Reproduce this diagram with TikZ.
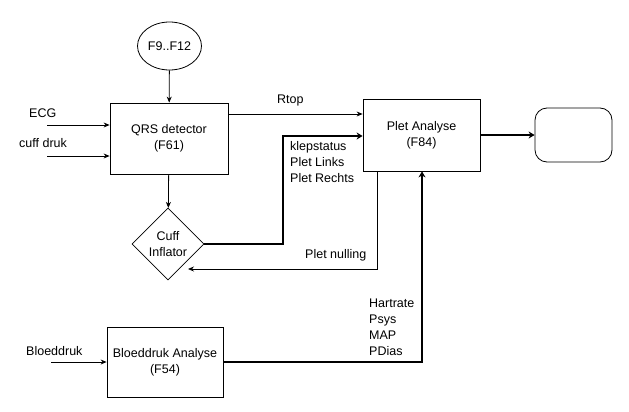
\documentclass[tikz,border=0pt]{standalone}
\usepackage{fontspec}
\setmainfont{Liberation Sans}
\usetikzlibrary{shapes.geometric,arrows.meta,calc}
\begin{document}
\begin{tikzpicture}[x=1pt,y=-1pt,
  every node/.style={font=\fontsize{12.5}{16}\selectfont},
  box/.style={draw,line width=0.8pt,inner sep=0,align=center},
  thin/.style={line width=0.8pt,-{Stealth[length=6pt,width=5pt]}},
  thick/.style={line width=2.6pt,-{Stealth[length=6pt,width=7pt]}},
  lbl/.style={inner sep=0,anchor=west,align=left}]
\useasboundingbox (0,0) rectangle (629,412);
% nodes
\node[draw,ellipse,line width=0.8pt,minimum width=64,minimum height=48,inner sep=0] (fk) at (169.5,46) {F9..F12};
\node[box,minimum width=118,minimum height=71] (qrs) at (169,138.5) {QRS detector\\(F61)};
\node[box,minimum width=117,minimum height=72] (plet) at (421.5,135) {Plet Analyse\\(F84)};
\node[draw,line width=0.8pt,rounded corners=12pt,minimum width=77,minimum height=54,inner sep=0] (out) at (573.5,135) {};
\node[draw,diamond,line width=0.8pt,minimum width=72,minimum height=72,inner sep=0,align=center] (cuff) at (168,244) {Cuff\\Inflator};
\node[box,minimum width=116,minimum height=70] (bd) at (165,362) {Bloeddruk Analyse\\(F54)};
% free ends
\coordinate (ecg) at (47,125);
\coordinate (cd) at (47,156);
\coordinate (bdin) at (51,362);
\coordinate (k1) at (283,244);
\coordinate (k2) at (283,136);
\coordinate (n1) at (377,269);
\coordinate (nend) at (188,269);
\coordinate (h1) at (422,362);
% labels
\node[lbl] (tecg) at (29,113) {ECG};
\node[lbl] (tcd) at (19,143) {cuff druk};
\node[lbl] (tbd) at (26,351) {Bloeddruk};
\node[lbl] (trtop) at (277,100) {Rtop};
\node[lbl,anchor=north west] (tklep) at (290,141) {klepstatus\\Plet Links\\Plet Rechts};
\node[lbl] (tnul) at (305,255) {Plet nulling};
\node[lbl,anchor=north west] (thr) at (369,299) {Hartrate\\Psys\\MAP\\PDias};
% connectors
\draw[thin] (fk) -- (qrs);
\draw[thin] (ecg) -- (ecg -| qrs.west);
\draw[thin] (cd) -- (cd -| qrs.west);
\draw[thin] (qrs) -- (cuff);
\draw[thin] ($(qrs.east)+(0,-24.5)$) -- ($(plet.west)+(0,-21)$);
\draw[thick,line join=miter] (cuff.east) -- (k1) -- (k2) -- (k2 -| plet.west);
\draw[line width=0.8pt,-{Stealth[length=6pt,width=5pt]}] (n1 |- plet.south) -- (n1) -- (nend);
\draw[thin] (bdin) -- (bd.west);
\draw[thick,line join=miter] (bd.east) -- (h1) -- (h1 |- plet.south);
\draw[thick] (plet.east) -- (out.west);
\end{tikzpicture}
\end{document}
